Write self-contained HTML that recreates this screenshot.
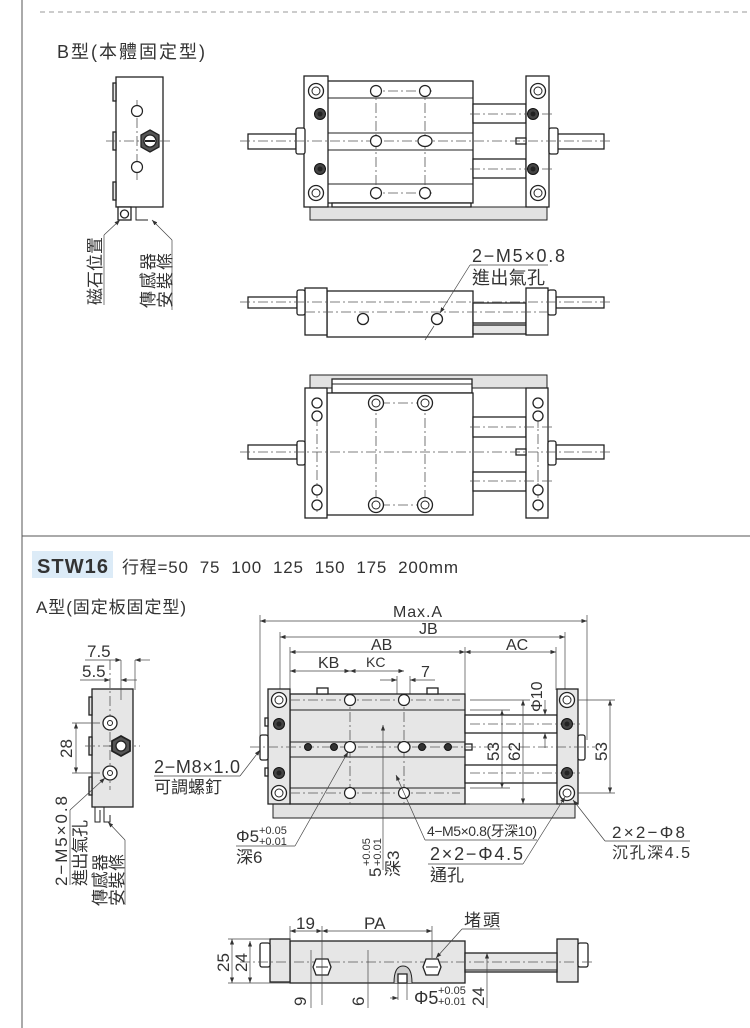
<!DOCTYPE html>
<html><head><meta charset="utf-8"><style>
body{margin:0;background:#fff}
svg{display:block}
text{font-family:"Liberation Sans","Noto Sans CJK TC",sans-serif;fill:#333;white-space:pre}
.o{fill:#fff;stroke:#222;stroke-width:1.3}
.g{fill:#e6e6e6;stroke:#222;stroke-width:1.3}
.l{stroke:#222;stroke-width:1;fill:none}
.c{stroke:#555;stroke-width:.8;stroke-dasharray:10 3 2 3;fill:none}
.d{stroke:#444;stroke-width:.7;fill:none}
.dk{fill:#333;stroke:#111}
</style></head><body>
<svg width="750" height="1028" viewBox="0 0 750 1028" xmlns="http://www.w3.org/2000/svg">
<defs>
<g id="cb"><circle r="7.5" fill="#fff" stroke="#222" stroke-width="1.3"/><circle r="4" fill="none" stroke="#222"/></g>
<g id="dh"><circle r="5.5" fill="#444" stroke="#111"/><circle r="2.5" fill="#222"/></g>
<g id="sh"><circle r="5.5" fill="#fff" stroke="#222" stroke-width="1.2"/></g>
<marker id="ar" markerWidth="8" markerHeight="6" refX="8" refY="3" orient="auto-start-reverse"><path d="M0,0 L8,3 L0,6z" fill="#333"/></marker>
</defs>
<line x1="22" y1="0" x2="22" y2="1028" stroke="#555" stroke-width="1"/>
<line x1="40" y1="12" x2="750" y2="12" stroke="#999" stroke-dasharray="5 4"/>
<line x1="22" y1="536" x2="750" y2="536" stroke="#555"/>

<!-- B type -->
<text x="57" y="58" font-size="18" textLength="148">B型(本體固定型)</text>
<rect x="116" y="77" width="47" height="130" class="o"/>
<rect x="113" y="83" width="3" height="18" class="g"/><rect x="113" y="132" width="3" height="18" class="g"/><rect x="113" y="182" width="3" height="18" class="g"/>
<line x1="137" y1="100" x2="137" y2="180" class="c"/><line x1="106" y1="141" x2="170" y2="141" class="c"/>
<use href="#sh" x="137" y="111"/><use href="#sh" x="137" y="167"/>
<polygon points="150,130 159,135 159,147 150,152 141,147 141,135" fill="#555" stroke="#222" stroke-width="1.3"/><circle cx="150" cy="141" r="6" class="o"/><line x1="145" y1="141" x2="155" y2="141" stroke="#222" stroke-width="2"/>
<rect x="118" y="207" width="13" height="13" class="o"/><circle cx="124.5" cy="214" r="4" class="o"/>
<path d="M136 207 V220 H148" class="l"/>
<line x1="104" y1="235" x2="120" y2="220" class="d" marker-end="url(#ar)"/><line x1="104" y1="235" x2="104" y2="305" class="d"/>
<line x1="172" y1="240" x2="152" y2="220" class="d" marker-end="url(#ar)"/><line x1="172" y1="240" x2="172" y2="310" class="d"/>
<text font-size="17" textLength="68" transform="translate(101,305) rotate(-90)">磁石位置</text>
<text font-size="17" textLength="55" transform="translate(154,308) rotate(-90)">傳感器</text>
<text font-size="17" textLength="55" transform="translate(171,308) rotate(-90)">安裝條</text>

<!-- top view 1 -->
<rect x="310" y="207" width="237" height="13" fill="#e2e2e2" stroke="#222"/>
<rect x="327" y="81" width="146" height="122" class="o"/>
<rect x="332" y="203" width="139" height="4" class="o"/>
<line x1="327" y1="98" x2="473" y2="98" class="l"/><line x1="327" y1="133" x2="473" y2="133" class="l"/><line x1="327" y1="150" x2="473" y2="150" class="l"/><line x1="327" y1="184" x2="473" y2="184" class="l"/>
<rect x="473" y="104" width="53" height="19" class="o"/><rect x="473" y="159" width="53" height="19" class="o"/>
<rect x="304" y="76" width="24" height="131" class="o"/><rect x="526" y="76" width="23" height="131" class="o"/>
<rect x="248" y="134" width="48" height="15" class="o"/><rect x="296" y="128" width="9" height="26" rx="2" class="o"/>
<rect x="557" y="134" width="47" height="15" class="o"/><rect x="549" y="128" width="9" height="26" rx="2" class="o"/>
<rect x="516" y="138" width="10" height="6" class="o"/>
<line x1="240" y1="141" x2="612" y2="141" class="c"/>
<line x1="370" y1="91" x2="432" y2="91" class="c"/><line x1="370" y1="193" x2="432" y2="193" class="c"/>
<line x1="376" y1="85" x2="376" y2="200" class="c"/><line x1="425" y1="85" x2="425" y2="200" class="c"/>
<line x1="470" y1="114" x2="555" y2="114" class="c"/><line x1="470" y1="169" x2="555" y2="169" class="c"/>
<use href="#cb" x="316" y="91"/><use href="#cb" x="316" y="193"/><use href="#cb" x="538" y="91"/><use href="#cb" x="538" y="193"/>
<use href="#dh" x="320" y="114"/><use href="#dh" x="320" y="169"/><use href="#dh" x="533" y="114"/><use href="#dh" x="533" y="169"/>
<use href="#sh" x="376" y="91"/><use href="#sh" x="425" y="91"/><use href="#sh" x="376" y="193"/><use href="#sh" x="425" y="193"/><use href="#sh" x="376" y="141"/>
<ellipse cx="425" cy="141" rx="7" ry="5.5" class="o" stroke-width="2"/>

<!-- side view 2 -->
<rect x="327" y="291" width="146" height="46" class="o"/>
<rect x="473" y="303" width="53" height="20" class="o"/><rect x="473" y="325" width="53" height="9" class="g"/>
<rect x="305" y="288" width="22" height="47" class="o"/><rect x="526" y="288" width="22" height="47" class="o"/>
<rect x="248" y="297" width="49" height="11" class="o"/><rect x="297" y="290" width="8" height="25" rx="2" class="o"/>
<rect x="556" y="297" width="48" height="11" class="o"/><rect x="548" y="290" width="8" height="25" rx="2" class="o"/>
<line x1="240" y1="302" x2="612" y2="302" class="c"/><line x1="305" y1="312" x2="548" y2="312" class="c"/>
<circle cx="363" cy="319" r="5.5" class="o"/><circle cx="437" cy="319" r="5.5" class="o"/>
<text x="472" y="262" font-size="18" textLength="93">2−M5×0.8</text><text x="472" y="284" font-size="18" textLength="73">進出氣孔</text>
<line x1="470" y1="265" x2="548" y2="265" class="d"/>
<line x1="470" y1="265" x2="440" y2="313" class="d" marker-end="url(#ar)"/><line x1="434" y1="326" x2="425" y2="340" class="d"/>

<!-- bottom view 3 -->
<rect x="310" y="375" width="237" height="13" fill="#e2e2e2" stroke="#222"/>
<rect x="332" y="379" width="140" height="14" class="o"/><line x1="332" y1="384" x2="472" y2="384" class="l"/>
<rect x="327" y="393" width="146" height="122" class="o"/>
<rect x="473" y="417" width="53" height="20" class="o"/><rect x="473" y="472" width="53" height="19" class="o"/>
<rect x="305" y="388" width="22" height="130" class="o"/><rect x="526" y="388" width="22" height="130" class="o"/>
<rect x="248" y="445" width="49" height="14" class="o"/><rect x="297" y="441" width="8" height="24" rx="2" class="o"/>
<rect x="556" y="445" width="48" height="14" class="o"/><rect x="548" y="441" width="8" height="24" rx="2" class="o"/>
<rect x="516" y="449" width="10" height="6" class="o"/>
<line x1="240" y1="452" x2="612" y2="452" class="c"/>
<line x1="376" y1="400" x2="376" y2="508" class="c"/><line x1="425" y1="400" x2="425" y2="508" class="c"/>
<line x1="317" y1="398" x2="317" y2="512" class="c"/><line x1="538" y1="398" x2="538" y2="512" class="c"/>
<line x1="470" y1="427" x2="555" y2="427" class="c"/><line x1="470" y1="481" x2="555" y2="481" class="c"/>
<line x1="380" y1="403" x2="420" y2="403" class="c"/><line x1="380" y1="505" x2="420" y2="505" class="c"/>
<use href="#cb" x="376" y="403"/><use href="#cb" x="425" y="403"/><use href="#cb" x="376" y="505"/><use href="#cb" x="425" y="505"/>
<circle cx="317" cy="403" r="5" class="o"/><circle cx="317" cy="416" r="5" class="o"/><circle cx="317" cy="490" r="5" class="o"/><circle cx="317" cy="505" r="5" class="o"/>
<circle cx="538" cy="403" r="5" class="o"/><circle cx="538" cy="416" r="5" class="o"/><circle cx="538" cy="490" r="5" class="o"/><circle cx="538" cy="505" r="5" class="o"/>

<!-- STW16 header -->
<rect x="32" y="551" width="81" height="27" fill="#dcebf7"/>
<text x="37" y="573" font-size="20" font-weight="bold" fill="#111" textLength="71">STW16</text>
<text x="122" y="573" font-size="17" textLength="336">行程=50  75  100  125  150  175  200mm</text>
<text x="36" y="613" font-size="17" textLength="150">A型(固定板固定型)</text>

<!-- A end view -->
<rect x="92" y="689" width="41" height="118" class="g"/>
<rect x="89" y="697" width="3" height="18" class="g"/><rect x="89" y="737" width="3" height="18" class="g"/><rect x="89" y="777" width="3" height="18" class="g"/>
<path d="M95 807 V822 H100 V810 M104 807 V822 H110 V815" class="l"/>
<line x1="110" y1="660" x2="110" y2="790" class="c"/><line x1="121" y1="660" x2="121" y2="700" class="d"/><line x1="135" y1="660" x2="135" y2="690" class="d"/>
<line x1="85" y1="746" x2="140" y2="746" class="c"/>
<circle cx="110" cy="723" r="7" class="o"/><circle cx="110" cy="723" r="2.5" class="l"/>
<circle cx="110" cy="773" r="7" class="o"/><circle cx="110" cy="773" r="2.5" class="l"/>
<polygon points="121,736 130,741 130,751 121,756 112,751 112,741" fill="#555" stroke="#222" stroke-width="1.8"/><circle cx="121" cy="746" r="5" class="o"/>
<text x="87" y="657" font-size="17">7.5</text><line x1="85" y1="660" x2="121" y2="660" class="d" marker-end="url(#ar)"/><line x1="135" y1="660" x2="150" y2="660" class="d" marker-start="url(#ar)"/>
<text x="82" y="677" font-size="17">5.5</text><line x1="80" y1="680" x2="110" y2="680" class="d" marker-end="url(#ar)"/><line x1="121" y1="680" x2="137" y2="680" class="d" marker-start="url(#ar)"/>
<line x1="72" y1="723" x2="100" y2="723" class="d"/><line x1="72" y1="773" x2="100" y2="773" class="d"/>
<line x1="76" y1="723" x2="76" y2="773" class="d" marker-start="url(#ar)" marker-end="url(#ar)"/>
<text font-size="17" transform="translate(72,758) rotate(-90)">28</text>
<line x1="70" y1="810" x2="105" y2="778" class="d" marker-end="url(#ar)"/><line x1="70" y1="810" x2="70" y2="885" class="d"/>
<text font-size="17" textLength="90" transform="translate(67,886) rotate(-90)">2−M5×0.8</text>
<text font-size="17" textLength="66" transform="translate(86,886) rotate(-90)">進出氣孔</text>
<line x1="125" y1="840" x2="108" y2="822" class="d" marker-end="url(#ar)"/><line x1="125" y1="840" x2="125" y2="905" class="d"/>
<text font-size="17" textLength="52" transform="translate(106,906) rotate(-90)">傳感器</text>
<text font-size="17" textLength="52" transform="translate(123,906) rotate(-90)">安裝條</text>
<text x="154" y="773" font-size="18" textLength="86">2−M8×1.0</text><text x="154" y="793" font-size="17" textLength="68">可調螺釘</text>
<line x1="154" y1="776" x2="240" y2="776" class="d"/><line x1="240" y1="776" x2="260" y2="750" class="d" marker-end="url(#ar)"/>

<!-- A top view -->
<line x1="260" y1="615" x2="260" y2="740" class="d"/><line x1="587" y1="615" x2="587" y2="740" class="d"/>
<line x1="280" y1="632" x2="280" y2="700" class="d"/><line x1="565" y1="632" x2="565" y2="700" class="d"/>
<line x1="290" y1="647" x2="290" y2="694" class="d"/><line x1="465" y1="647" x2="465" y2="694" class="d"/><line x1="556" y1="647" x2="556" y2="690" class="d"/>
<text x="393" y="617" font-size="16" textLength="49">Max.A</text><line x1="260" y1="621" x2="587" y2="621" class="d" marker-start="url(#ar)" marker-end="url(#ar)"/>
<text x="419" y="634" font-size="16">JB</text><line x1="280" y1="637" x2="565" y2="637" class="d" marker-start="url(#ar)" marker-end="url(#ar)"/>
<text x="371" y="650" font-size="16">AB</text><line x1="290" y1="652" x2="465" y2="652" class="d" marker-start="url(#ar)" marker-end="url(#ar)"/>
<text x="506" y="650" font-size="16">AC</text><line x1="465" y1="652" x2="556" y2="652" class="d" marker-start="url(#ar)" marker-end="url(#ar)"/>
<text x="318" y="668" font-size="16">KB</text><line x1="290" y1="671" x2="350" y2="671" class="d" marker-start="url(#ar)" marker-end="url(#ar)"/>
<text x="366" y="667" font-size="14">KC</text><line x1="350" y1="671" x2="404" y2="671" class="d" marker-start="url(#ar)" marker-end="url(#ar)"/>
<text x="421" y="677" font-size="16">7</text><line x1="380" y1="680" x2="397" y2="680" class="d" marker-end="url(#ar)"/><line x1="410" y1="680" x2="435" y2="680" class="d" marker-start="url(#ar)"/>
<line x1="397" y1="676" x2="397" y2="760" class="d"/><line x1="410" y1="676" x2="410" y2="760" class="d"/>
<rect x="273" y="804" width="302" height="14" fill="#e2e2e2" stroke="#222"/>
<rect x="290" y="694" width="175" height="110" class="g"/>
<rect x="317" y="688" width="11" height="6" class="o"/><rect x="427" y="688" width="11" height="6" class="o"/>
<line x1="290" y1="710" x2="465" y2="710" class="l"/><line x1="290" y1="742" x2="465" y2="742" class="l"/><line x1="290" y1="757" x2="465" y2="757" class="l"/><line x1="290" y1="788" x2="465" y2="788" class="l"/>
<rect x="465" y="715" width="92" height="18" class="o"/><rect x="465" y="765" width="92" height="18" class="o"/>
<rect x="465" y="744" width="7" height="6" class="o"/>
<rect x="268" y="689" width="22" height="115" class="g"/><rect x="557" y="689" width="21" height="115" class="g"/>
<rect x="265" y="718" width="3" height="8" class="o"/><rect x="265" y="768" width="3" height="8" class="o"/>
<rect x="260" y="735" width="8" height="25" rx="2" class="o"/><rect x="578" y="735" width="7" height="25" rx="2" class="o"/>
<line x1="250" y1="747" x2="595" y2="747" class="c"/>
<line x1="290" y1="700" x2="460" y2="700" class="c"/><line x1="290" y1="793" x2="460" y2="793" class="c"/>
<line x1="350" y1="694" x2="350" y2="804" class="c"/><line x1="404" y1="694" x2="404" y2="804" class="c"/>
<line x1="470" y1="724" x2="580" y2="724" class="c"/><line x1="470" y1="773" x2="580" y2="773" class="c"/>
<use href="#cb" x="279" y="700"/><use href="#cb" x="279" y="793"/><use href="#cb" x="567" y="700"/><use href="#cb" x="567" y="793"/>
<use href="#dh" x="279" y="724"/><use href="#dh" x="279" y="773"/><use href="#dh" x="567" y="724"/><use href="#dh" x="567" y="773"/>
<circle cx="308" cy="747" r="3.5" class="dk"/><circle cx="334" cy="747" r="3.5" class="dk"/><circle cx="422" cy="747" r="3.5" class="dk"/><circle cx="448" cy="747" r="3.5" class="dk"/>
<use href="#sh" x="350" y="747"/><ellipse cx="404" cy="747" rx="6" ry="5.5" class="o" stroke-width="2"/>
<use href="#sh" x="350" y="700"/><use href="#sh" x="404" y="700"/><use href="#sh" x="350" y="793"/><use href="#sh" x="404" y="793"/>
<line x1="383" y1="725" x2="383" y2="870" class="d" marker-start="url(#ar)"/>
<!-- right dims -->
<line x1="470" y1="710" x2="510" y2="710" class="d"/><line x1="470" y1="788" x2="510" y2="788" class="d"/>
<line x1="502" y1="710" x2="502" y2="788" class="d" marker-start="url(#ar)" marker-end="url(#ar)"/>
<text font-size="17" transform="translate(499,761) rotate(-90)">53</text>
<line x1="470" y1="700" x2="530" y2="700" class="d"/><line x1="470" y1="804" x2="530" y2="804" class="d"/>
<line x1="523" y1="700" x2="523" y2="804" class="d" marker-start="url(#ar)" marker-end="url(#ar)"/>
<text font-size="17" transform="translate(520,761) rotate(-90)">62</text>
<line x1="545" y1="700" x2="545" y2="715" class="d" marker-end="url(#ar)"/><line x1="545" y1="733" x2="545" y2="748" class="d" marker-start="url(#ar)"/>
<text font-size="16" transform="translate(542,712) rotate(-90)">Φ10</text>
<line x1="578" y1="700" x2="615" y2="700" class="d"/><line x1="578" y1="793" x2="615" y2="793" class="d"/>
<line x1="610" y1="700" x2="610" y2="793" class="d" marker-start="url(#ar)" marker-end="url(#ar)"/>
<text font-size="17" transform="translate(607,761) rotate(-90)">53</text>
<!-- leaders -->
<text x="236" y="842" font-size="17">Φ5</text><text x="259" y="834" font-size="11">+0.05</text><text x="259" y="845" font-size="11">+0.01</text>
<text x="236" y="863" font-size="17">深6</text>
<line x1="236" y1="846" x2="295" y2="846" class="d"/><line x1="295" y1="846" x2="348" y2="752" class="d" marker-end="url(#ar)"/>
<text font-size="17" transform="translate(381,877) rotate(-90)">5</text>
<text font-size="11" transform="translate(370,866) rotate(-90)">+0.05</text>
<text font-size="11" transform="translate(381,866) rotate(-90)">+0.01</text>
<text font-size="17" transform="translate(399,877) rotate(-90)">深3</text>
<text x="427" y="836" font-size="14" textLength="110">4−M5×0.8(牙深10)</text>
<line x1="425" y1="840" x2="537" y2="840" class="d"/><line x1="425" y1="840" x2="396" y2="775" class="d" marker-end="url(#ar)"/>
<text x="430" y="860" font-size="18" textLength="93">2×2−Φ4.5</text><text x="430" y="881" font-size="17">通孔</text>
<line x1="428" y1="864" x2="523" y2="864" class="d"/><line x1="523" y1="864" x2="565" y2="797" class="d" marker-end="url(#ar)"/>
<text x="612" y="838" font-size="17" textLength="73">2×2−Φ8</text><text x="612" y="858" font-size="16" textLength="78">沉孔深4.5</text>
<line x1="605" y1="841" x2="690" y2="841" class="d"/><line x1="605" y1="841" x2="573" y2="800" class="d" marker-end="url(#ar)"/>

<!-- bottom side view -->
<rect x="290" y="941" width="175" height="42" class="g"/>
<rect x="270" y="939" width="20" height="43" class="g"/><rect x="557" y="939" width="21" height="43" class="g"/>
<rect x="465" y="953" width="92" height="19" class="g"/><line x1="465" y1="970" x2="557" y2="970" class="l"/>
<rect x="260" y="943" width="10" height="24" rx="2" class="o"/><rect x="578" y="943" width="10" height="24" rx="2" class="o"/>
<line x1="240" y1="962" x2="595" y2="962" class="c"/>
<polygon points="316,959 328,959 331,967 328,975 316,975 313,967" class="o"/><line x1="316" y1="967" x2="328" y2="967" class="l"/>
<polygon points="426,959 438,959 441,967 438,975 426,975 423,967" class="o"/><line x1="426" y1="967" x2="438" y2="967" class="l"/>
<path d="M394 983 Q394 966 403 966 Q412 966 412 983" fill="#ccc" stroke="#222"/><rect x="398" y="974" width="9" height="9" class="o"/>
<text x="296" y="929" font-size="17">19</text><line x1="290" y1="931" x2="322" y2="931" class="d" marker-start="url(#ar)" marker-end="url(#ar)"/>
<text x="364" y="929" font-size="17">PA</text><line x1="322" y1="931" x2="432" y2="931" class="d" marker-start="url(#ar)" marker-end="url(#ar)"/>
<line x1="290" y1="926" x2="290" y2="941" class="d"/><line x1="322" y1="926" x2="322" y2="1005" class="d"/><line x1="432" y1="926" x2="432" y2="958" class="d"/>
<text x="464" y="926" font-size="17" textLength="36">堵頭</text><line x1="462" y1="929" x2="500" y2="929" class="d"/><line x1="462" y1="929" x2="436" y2="958" class="d" marker-end="url(#ar)"/>
<line x1="228" y1="939" x2="270" y2="939" class="d"/><line x1="228" y1="983" x2="290" y2="983" class="d"/>
<line x1="232" y1="939" x2="232" y2="983" class="d" marker-start="url(#ar)" marker-end="url(#ar)"/>
<line x1="250" y1="941" x2="250" y2="983" class="d" marker-start="url(#ar)" marker-end="url(#ar)"/>
<text font-size="17" transform="translate(229,972) rotate(-90)">25</text>
<text font-size="17" transform="translate(247,972) rotate(-90)">24</text>
<line x1="311" y1="950" x2="311" y2="1008" class="d"/>
<text font-size="17" transform="translate(306,1006) rotate(-90)">9</text>
<line x1="368" y1="950" x2="368" y2="1008" class="d"/>
<text font-size="17" transform="translate(364,1006) rotate(-90)">6</text>
<line x1="398" y1="983" x2="398" y2="1000" class="d"/><line x1="407" y1="983" x2="407" y2="1000" class="d"/>
<line x1="390" y1="998" x2="398" y2="998" class="d" marker-end="url(#ar)"/>
<text x="414" y="1004" font-size="18">Φ5</text><text x="438" y="994" font-size="11">+0.05</text><text x="438" y="1005" font-size="11">+0.01</text>
<line x1="487" y1="953" x2="487" y2="1008" class="d" marker-start="url(#ar)"/>
<text font-size="17" transform="translate(484,1006) rotate(-90)">24</text>
</svg>
</body></html>
